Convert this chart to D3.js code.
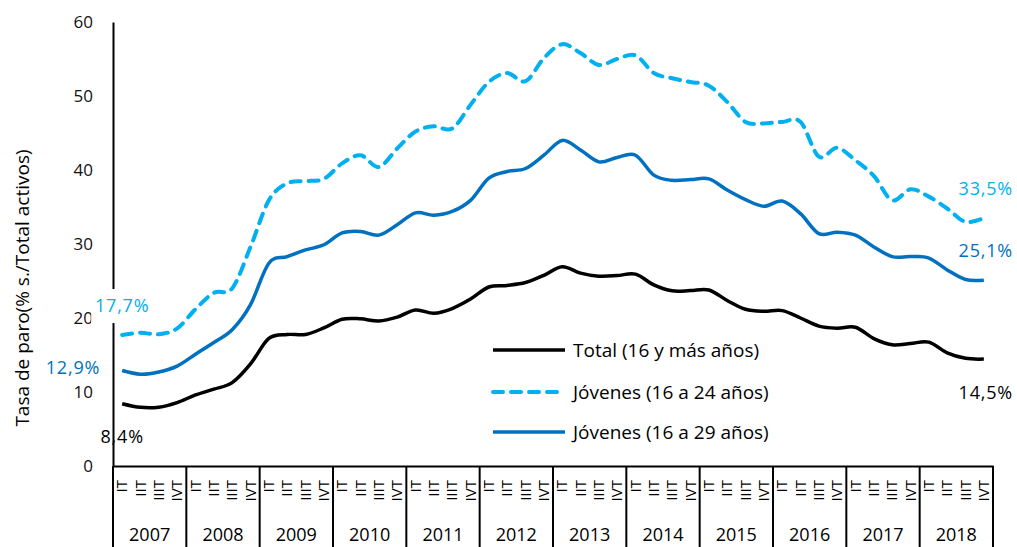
<!DOCTYPE html>
<html>
<head>
<meta charset="utf-8">
<script src="https://cdn.jsdelivr.net/npm/d3@7"></script>
<style>
  html, body { margin: 0; padding: 0; background: #fff; }
  svg { display: block; }
  text { font-family: 'Open Sans', sans-serif; }
</style>
</head>
<body>
<svg id="chart" width="1017" height="547"></svg>
<script>
// ---- data ----
const years = ["2007","2008","2009","2010","2011","2012","2013","2014","2015","2016","2017","2018"];
const quarters = ["IT","IIT","IIIT","IVT"];
const yTicks = [0, 10, 20, 30, 40, 50, 60];

const total = [8.42,7.93,7.95,8.57, 9.60,10.38,11.26,13.79, 17.24,17.77,17.77,18.66,
  19.84,19.89,19.59,20.11, 21.08,20.64,21.28,22.56, 24.19,24.40,24.79,25.77,
  26.94,26.06,25.65,25.73, 25.93,24.47,23.67,23.70, 23.78,22.37,21.18,20.90,
  21.00,20.00,18.91,18.63, 18.75,17.22,16.38,16.55, 16.74,15.28,14.55,14.45];
const young1624 = [17.7,18.0,17.8,18.6, 21.2,23.4,24.0,29.6, 35.9,38.2,38.5,38.8,
  40.9,42.0,40.4,42.9, 45.2,45.9,45.6,48.8, 51.9,53.1,52.0,55.1,
  57.0,55.8,54.2,55.0, 55.5,53.1,52.4,51.9, 51.4,49.2,46.5,46.3,
  46.5,46.5,41.8,43.0, 41.3,39.2,35.9,37.4, 36.4,34.8,33.0,33.5];
const young1629 = [12.9,12.4,12.7,13.5, 15.1,16.7,18.4,21.8, 27.4,28.3,29.2,29.9,
  31.5,31.7,31.2,32.6, 34.2,33.9,34.4,35.9, 38.9,39.8,40.2,42.0,
  44.0,42.7,41.1,41.7, 42.0,39.3,38.6,38.7, 38.8,37.3,36.0,35.1,
  35.8,34.1,31.4,31.6, 31.2,29.6,28.3,28.3, 28.1,26.5,25.2,25.1];

const seriesNames = ["Total (16 y más años)", "Jóvenes (16 a 24 años)", "Jóvenes (16 a 29 años)"];
const yTitle = "Tasa de paro(% s./Total activos)";

// ---- build ----
const keys = [];
years.forEach(yr => quarters.forEach(q => keys.push(yr + "-" + q)));

const series = [
  { name: seriesNames[0], values: total, color: "#000000", dash: null },
  { name: seriesNames[1], values: young1624, color: "#00B0F0", dash: "10,8" },
  { name: seriesNames[2], values: young1629, color: "#0070C0", dash: null }
];

const svg = d3.select("#chart");
const pLeft = 113, pRight = 993, pTop = 22, pBottom = 466;

const x = d3.scaleBand().domain(keys).range([pLeft, pRight]).padding(0);
const xc = k => x(k) + x.bandwidth() / 2;
const xYear = d3.scaleBand().domain(years).range([pLeft, pRight]).padding(0);
const y = d3.scaleLinear().domain([0, 60]).range([pBottom, pTop]);

// Y axis
const yAxis = d3.axisLeft(y).tickValues(yTicks).tickSize(0).tickPadding(20).tickFormat(d3.format("d"));
const gy = svg.append("g").attr("transform", `translate(${pLeft},0)`).call(yAxis);
gy.select(".domain").attr("stroke", "#000").attr("stroke-width", 2);
gy.selectAll(".tick text").attr("font-size", 17).attr("fill", "#111").attr("font-family", "'Open Sans', sans-serif");

// X axis horizontal line
const xAxis = d3.axisBottom(x).tickSize(0).tickFormat("");
const gx = svg.append("g").attr("transform", `translate(0,${pBottom})`).call(xAxis);
gx.select(".domain").attr("stroke", "#000").attr("stroke-width", 2);
gx.selectAll(".tick").remove();

// year separators
const seps = years.map(yr => xYear(yr)).concat([xYear(years[years.length - 1]) + xYear.bandwidth()]);
svg.append("g").selectAll("line").data(seps).join("line")
  .attr("x1", d => d).attr("x2", d => d)
  .attr("y1", pBottom).attr("y2", 547)
  .attr("stroke", "#000").attr("stroke-width", 2);

// quarter labels (rotated)
svg.append("g").selectAll("text").data(keys).join("text")
  .attr("transform", d => `translate(${xc(d)},480) rotate(-90)`)
  .attr("dy", "0.35em")
  .attr("text-anchor", "end")
  .attr("font-size", 15)
  .attr("fill", "#000")
  .text(d => d.split("-")[1]);

// year labels
svg.append("g").selectAll("text").data(years).join("text")
  .attr("x", d => xYear(d) + xYear.bandwidth() / 2)
  .attr("y", 535)
  .attr("dy", "0.35em")
  .attr("text-anchor", "middle")
  .attr("font-size", 18)
  .attr("fill", "#000")
  .text(d => d);

// y title
svg.append("text")
  .attr("transform", "translate(22,288) rotate(-90)")
  .attr("dy", "0.35em")
  .attr("text-anchor", "middle")
  .attr("font-size", 19)
  .attr("fill", "#000")
  .text(yTitle);

// lines
const line = d3.line().x((d, i) => xc(keys[i])).y(d => y(d)).curve(d3.curveCardinal.tension(0));
series.forEach(s => {
  svg.append("path")
    .datum(s.values)
    .attr("d", line)
    .attr("fill", "none")
    .attr("stroke", s.color)
    .attr("stroke-width", s.dash ? 4 : 3.5)
    .attr("stroke-linecap", s.dash ? "round" : "butt")
    .attr("stroke-linejoin", "round")
    .attr("stroke-dasharray", s.dash);
});

// data labels
const fmt = v => (Math.round(v * 10 + 1e-6) / 10).toFixed(1).replace(".", ",") + "%";
const first = 0, last = keys.length - 1;
const dataLabels = [
  { s: 1, i: first, dx: 0, dy: -29, anchor: "middle", bg: true },
  { s: 2, i: first, dx: -22, dy: -3, anchor: "end", bg: false },
  { s: 0, i: first, dx: 0, dy: 33, anchor: "middle", bg: false },
  { s: 1, i: last, dx: 2, dy: -29, anchor: "middle", bg: false },
  { s: 2, i: last, dx: 2, dy: -30, anchor: "middle", bg: false },
  { s: 0, i: last, dx: 2, dy: 34, anchor: "middle", bg: false }
];
const gl = svg.append("g");
dataLabels.forEach(l => {
  const s = series[l.s];
  const v = s.values[l.i];
  const px = xc(keys[l.i]) + l.dx, py = y(v) + l.dy;
  if (l.bg) {
    gl.append("rect").attr("x", px - 31).attr("y", py - 17).attr("width", 62).attr("height", 34).attr("fill", "#fff");
  }
  gl.append("text")
    .attr("x", px).attr("y", py).attr("dy", "0.35em")
    .attr("text-anchor", l.anchor)
    .attr("font-size", 18)
    .attr("letter-spacing", 0.8)
    .attr("fill", s.color)
    .text(fmt(v));
});

// legend
const legY = [350, 392, 432];
const leg = svg.append("g");
series.forEach((s, k) => {
  leg.append("line")
    .attr("x1", 493).attr("x2", 565).attr("y1", legY[k]).attr("y2", legY[k])
    .attr("stroke", s.color).attr("stroke-width", s.dash ? 4 : 3.5)
    .attr("stroke-linecap", s.dash ? "round" : "butt")
    .attr("stroke-dasharray", s.dash);
  leg.append("text")
    .attr("x", 573).attr("y", legY[k]).attr("dy", "0.35em")
    .attr("font-size", 19).attr("fill", "#000")
    .text(s.name);
});
</script>
</body>
</html>
